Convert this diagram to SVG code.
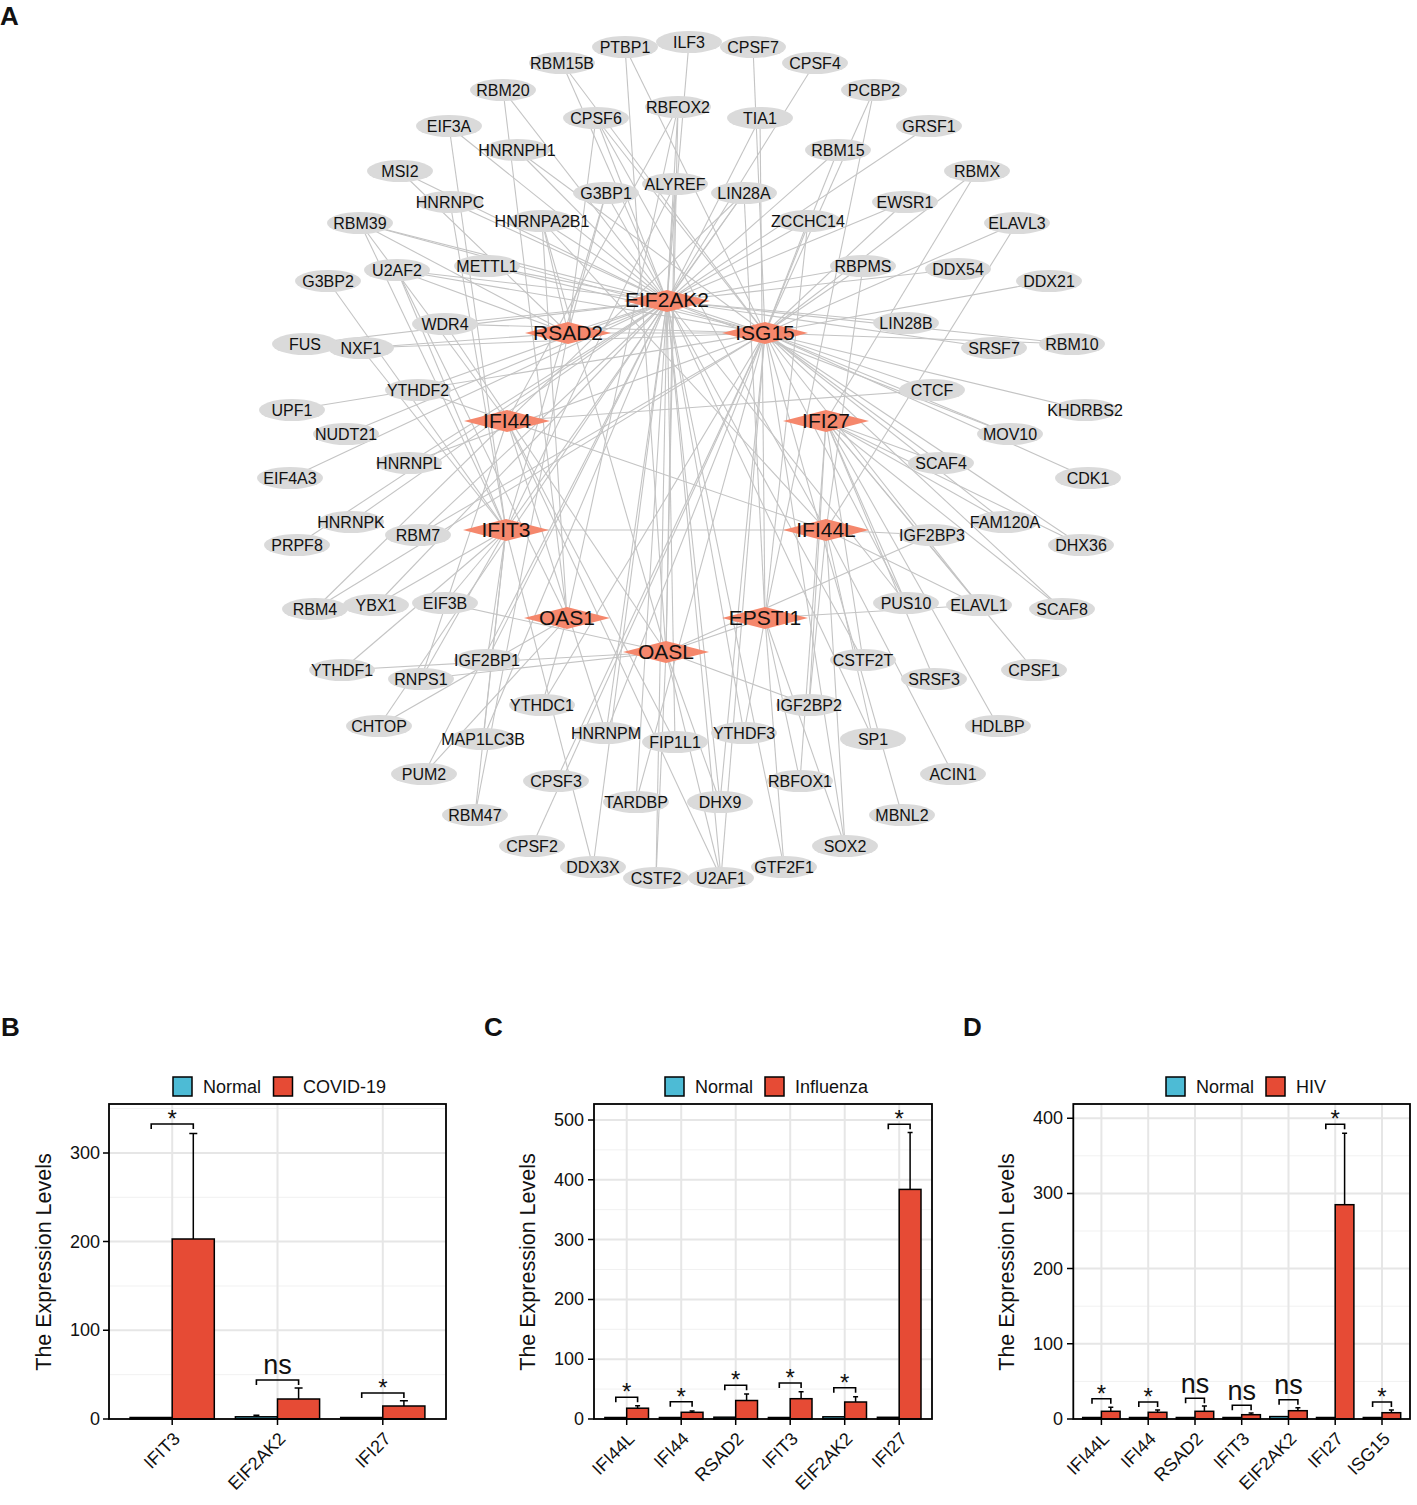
<svg xmlns="http://www.w3.org/2000/svg" width="1417" height="1505" viewBox="0 0 1417 1505">
<style>
text{font-family:"Liberation Sans",Arial,sans-serif;fill:#111}
.edges line{stroke:#c4c4c4;stroke-width:1.1}
.pn ellipse{fill:#dadada}
.pn text{font-size:16px;text-anchor:middle}
.hub polygon{fill:#f5876c}
.hub text{font-size:21px;text-anchor:middle}
.lbl{font-size:26px;font-weight:bold}
.gmaj{stroke:#e6e6e6;stroke-width:2}
.gmin{stroke:#f1f1f1;stroke-width:1}
.frame{fill:none;stroke:#000;stroke-width:1.8}
.tick{stroke:#000;stroke-width:1.5}
.ytl{font-size:18px;text-anchor:end}
.xtl{font-size:18px;text-anchor:end}
.ytitle{font-size:21.5px;text-anchor:middle}
.leg{font-size:18px}
.bn{fill:#4dbbd5;stroke:#000;stroke-width:1.5}
.br{fill:#e64b35;stroke:#000;stroke-width:1.5}
.err{stroke:#000;stroke-width:1.5;fill:none}
.brk{stroke:#000;stroke-width:1.6;fill:none}
.star{font-size:24px;text-anchor:middle}
.ns{font-size:27px;text-anchor:middle}
</style>
<rect width="1417" height="1505" fill="#fff"/>
<text class="lbl" x="0" y="25">A</text>
<g class="edges" id="edges">
<line x1="625" y1="47" x2="666" y2="652"/><line x1="625" y1="47" x2="765" y2="333"/>
<line x1="689" y1="42" x2="667" y2="301"/>
<line x1="753" y1="47" x2="765" y2="333"/>
<line x1="562" y1="63" x2="765" y2="333"/><line x1="562" y1="63" x2="667" y2="301"/>
<line x1="815" y1="63" x2="667" y2="301"/>
<line x1="503" y1="90" x2="667" y2="301"/><line x1="503" y1="90" x2="567" y2="618"/>
<line x1="874" y1="90" x2="765" y2="333"/><line x1="874" y1="90" x2="765" y2="618"/>
<line x1="596" y1="118" x2="667" y2="301"/><line x1="596" y1="118" x2="765" y2="333"/><line x1="596" y1="118" x2="826" y2="530"/><line x1="596" y1="118" x2="568" y2="333"/>
<line x1="678" y1="107" x2="667" y2="301"/><line x1="678" y1="107" x2="666" y2="652"/><line x1="678" y1="107" x2="507" y2="421"/><line x1="678" y1="107" x2="567" y2="618"/>
<line x1="760" y1="118" x2="667" y2="301"/><line x1="760" y1="118" x2="765" y2="618"/>
<line x1="449" y1="126" x2="506" y2="530"/><line x1="449" y1="126" x2="667" y2="301"/>
<line x1="929" y1="126" x2="667" y2="301"/>
<line x1="517" y1="150" x2="667" y2="301"/><line x1="517" y1="150" x2="765" y2="333"/>
<line x1="838" y1="150" x2="765" y2="333"/><line x1="838" y1="150" x2="667" y2="301"/>
<line x1="400" y1="171" x2="667" y2="301"/><line x1="400" y1="171" x2="568" y2="333"/>
<line x1="977" y1="171" x2="765" y2="333"/><line x1="977" y1="171" x2="826" y2="421"/>
<line x1="606" y1="193" x2="506" y2="530"/><line x1="606" y1="193" x2="667" y2="301"/><line x1="606" y1="193" x2="568" y2="333"/>
<line x1="675" y1="184" x2="667" y2="301"/><line x1="675" y1="184" x2="666" y2="652"/><line x1="675" y1="184" x2="506" y2="530"/>
<line x1="744" y1="193" x2="667" y2="301"/><line x1="744" y1="193" x2="507" y2="421"/><line x1="744" y1="193" x2="506" y2="530"/><line x1="744" y1="193" x2="765" y2="618"/>
<line x1="450" y1="202" x2="506" y2="530"/><line x1="450" y1="202" x2="667" y2="301"/>
<line x1="905" y1="202" x2="667" y2="301"/><line x1="905" y1="202" x2="765" y2="333"/>
<line x1="808" y1="221" x2="765" y2="333"/><line x1="808" y1="221" x2="667" y2="301"/><line x1="808" y1="221" x2="765" y2="618"/>
<line x1="542" y1="221" x2="667" y2="301"/><line x1="542" y1="221" x2="567" y2="618"/><line x1="542" y1="221" x2="826" y2="530"/><line x1="542" y1="221" x2="666" y2="652"/><line x1="542" y1="221" x2="568" y2="333"/>
<line x1="360" y1="223" x2="667" y2="301"/><line x1="360" y1="223" x2="765" y2="333"/><line x1="360" y1="223" x2="507" y2="421"/><line x1="360" y1="223" x2="506" y2="530"/><line x1="360" y1="223" x2="568" y2="333"/>
<line x1="1017" y1="223" x2="765" y2="333"/><line x1="1017" y1="223" x2="826" y2="530"/>
<line x1="397" y1="270" x2="667" y2="301"/><line x1="397" y1="270" x2="765" y2="333"/><line x1="397" y1="270" x2="567" y2="618"/><line x1="397" y1="270" x2="506" y2="530"/><line x1="397" y1="270" x2="568" y2="333"/>
<line x1="487" y1="266" x2="667" y2="301"/><line x1="487" y1="266" x2="765" y2="333"/>
<line x1="863" y1="266" x2="826" y2="530"/><line x1="863" y1="266" x2="667" y2="301"/><line x1="863" y1="266" x2="765" y2="333"/>
<line x1="958" y1="269" x2="667" y2="301"/>
<line x1="328" y1="281" x2="506" y2="530"/>
<line x1="1049" y1="281" x2="765" y2="333"/>
<line x1="445" y1="324" x2="667" y2="301"/><line x1="445" y1="324" x2="765" y2="333"/><line x1="445" y1="324" x2="666" y2="652"/>
<line x1="906" y1="323" x2="667" y2="301"/>
<line x1="305" y1="344" x2="667" y2="301"/>
<line x1="361" y1="348" x2="765" y2="333"/><line x1="361" y1="348" x2="506" y2="530"/><line x1="361" y1="348" x2="568" y2="333"/>
<line x1="994" y1="348" x2="667" y2="301"/>
<line x1="1072" y1="344" x2="765" y2="333"/><line x1="1072" y1="344" x2="667" y2="301"/>
<line x1="418" y1="390" x2="667" y2="301"/><line x1="418" y1="390" x2="826" y2="530"/>
<line x1="932" y1="390" x2="507" y2="421"/><line x1="932" y1="390" x2="765" y2="333"/>
<line x1="292" y1="410" x2="765" y2="333"/>
<line x1="1085" y1="410" x2="765" y2="333"/>
<line x1="346" y1="434" x2="667" y2="301"/>
<line x1="1010" y1="434" x2="765" y2="333"/><line x1="1010" y1="434" x2="667" y2="301"/>
<line x1="409" y1="463" x2="667" y2="301"/><line x1="409" y1="463" x2="765" y2="333"/>
<line x1="941" y1="463" x2="765" y2="333"/><line x1="941" y1="463" x2="826" y2="421"/>
<line x1="290" y1="478" x2="667" y2="301"/>
<line x1="1088" y1="478" x2="765" y2="333"/>
<line x1="351" y1="522" x2="667" y2="301"/>
<line x1="1005" y1="522" x2="765" y2="333"/><line x1="1005" y1="522" x2="826" y2="421"/>
<line x1="418" y1="535" x2="765" y2="333"/><line x1="418" y1="535" x2="667" y2="301"/>
<line x1="932" y1="535" x2="826" y2="530"/><line x1="932" y1="535" x2="666" y2="652"/>
<line x1="297" y1="545" x2="667" y2="301"/>
<line x1="1081" y1="545" x2="826" y2="421"/><line x1="1081" y1="545" x2="765" y2="333"/>
<line x1="315" y1="609" x2="507" y2="421"/><line x1="315" y1="609" x2="765" y2="333"/>
<line x1="376" y1="605" x2="506" y2="530"/><line x1="376" y1="605" x2="667" y2="301"/>
<line x1="445" y1="603" x2="666" y2="652"/><line x1="445" y1="603" x2="506" y2="530"/>
<line x1="906" y1="603" x2="826" y2="421"/><line x1="906" y1="603" x2="765" y2="333"/><line x1="906" y1="603" x2="667" y2="301"/>
<line x1="979" y1="605" x2="826" y2="421"/><line x1="979" y1="605" x2="826" y2="530"/><line x1="979" y1="605" x2="765" y2="333"/><line x1="979" y1="605" x2="765" y2="618"/>
<line x1="1062" y1="609" x2="826" y2="421"/><line x1="1062" y1="609" x2="765" y2="333"/>
<line x1="487" y1="660" x2="506" y2="530"/><line x1="487" y1="660" x2="667" y2="301"/>
<line x1="342" y1="670" x2="666" y2="652"/><line x1="342" y1="670" x2="506" y2="530"/>
<line x1="421" y1="679" x2="666" y2="652"/><line x1="421" y1="679" x2="506" y2="530"/><line x1="421" y1="679" x2="507" y2="421"/>
<line x1="863" y1="660" x2="826" y2="421"/><line x1="863" y1="660" x2="667" y2="301"/>
<line x1="934" y1="679" x2="826" y2="421"/>
<line x1="1034" y1="670" x2="826" y2="421"/>
<line x1="542" y1="705" x2="765" y2="333"/><line x1="542" y1="705" x2="567" y2="618"/>
<line x1="809" y1="705" x2="666" y2="652"/><line x1="809" y1="705" x2="826" y2="530"/><line x1="809" y1="705" x2="826" y2="421"/>
<line x1="379" y1="726" x2="667" y2="301"/><line x1="379" y1="726" x2="567" y2="618"/>
<line x1="998" y1="726" x2="826" y2="421"/>
<line x1="606" y1="733" x2="667" y2="301"/><line x1="606" y1="733" x2="765" y2="333"/><line x1="606" y1="733" x2="507" y2="421"/>
<line x1="675" y1="742" x2="667" y2="301"/><line x1="675" y1="742" x2="507" y2="421"/>
<line x1="744" y1="733" x2="667" y2="301"/><line x1="744" y1="733" x2="765" y2="618"/>
<line x1="483" y1="739" x2="506" y2="530"/><line x1="483" y1="739" x2="667" y2="301"/>
<line x1="873" y1="739" x2="667" y2="301"/><line x1="873" y1="739" x2="826" y2="530"/>
<line x1="424" y1="774" x2="667" y2="301"/><line x1="424" y1="774" x2="567" y2="618"/>
<line x1="953" y1="774" x2="826" y2="530"/>
<line x1="556" y1="781" x2="765" y2="333"/>
<line x1="800" y1="781" x2="765" y2="618"/><line x1="800" y1="781" x2="826" y2="421"/>
<line x1="636" y1="802" x2="667" y2="301"/><line x1="636" y1="802" x2="765" y2="333"/>
<line x1="720" y1="802" x2="667" y2="301"/><line x1="720" y1="802" x2="666" y2="652"/><line x1="720" y1="802" x2="765" y2="333"/>
<line x1="475" y1="815" x2="506" y2="530"/><line x1="475" y1="815" x2="568" y2="333"/>
<line x1="902" y1="815" x2="765" y2="333"/>
<line x1="532" y1="846" x2="765" y2="333"/>
<line x1="845" y1="846" x2="826" y2="530"/><line x1="845" y1="846" x2="765" y2="333"/><line x1="845" y1="846" x2="765" y2="618"/>
<line x1="593" y1="867" x2="667" y2="301"/><line x1="593" y1="867" x2="506" y2="530"/>
<line x1="784" y1="867" x2="667" y2="301"/><line x1="784" y1="867" x2="765" y2="618"/>
<line x1="656" y1="878" x2="667" y2="301"/><line x1="656" y1="878" x2="666" y2="652"/>
<line x1="721" y1="878" x2="667" y2="301"/><line x1="721" y1="878" x2="507" y2="421"/><line x1="721" y1="878" x2="765" y2="333"/><line x1="721" y1="878" x2="666" y2="652"/>
<line x1="667" y1="301" x2="765" y2="333"/><line x1="667" y1="301" x2="568" y2="333"/><line x1="568" y1="333" x2="765" y2="333"/>
<line x1="506" y1="530" x2="826" y2="530"/><line x1="765" y1="618" x2="666" y2="652"/>
</g>
<g id="nodes">
<g class="pn" id="n-PTBP1"><ellipse cx="625" cy="47" rx="33" ry="11"/><text x="625" y="53">PTBP1</text></g>
<g class="pn" id="n-ILF3"><ellipse cx="689" cy="42" rx="33" ry="11"/><text x="689" y="48">ILF3</text></g>
<g class="pn" id="n-CPSF7"><ellipse cx="753" cy="47" rx="33" ry="11"/><text x="753" y="53">CPSF7</text></g>
<g class="pn" id="n-RBM15B"><ellipse cx="562" cy="63" rx="33" ry="11"/><text x="562" y="69">RBM15B</text></g>
<g class="pn" id="n-CPSF4"><ellipse cx="815" cy="63" rx="33" ry="11"/><text x="815" y="69">CPSF4</text></g>
<g class="pn" id="n-RBM20"><ellipse cx="503" cy="90" rx="33" ry="11"/><text x="503" y="96">RBM20</text></g>
<g class="pn" id="n-PCBP2"><ellipse cx="874" cy="90" rx="33" ry="11"/><text x="874" y="96">PCBP2</text></g>
<g class="pn" id="n-CPSF6"><ellipse cx="596" cy="118" rx="33" ry="11"/><text x="596" y="124">CPSF6</text></g>
<g class="pn" id="n-RBFOX2"><ellipse cx="678" cy="107" rx="33" ry="11"/><text x="678" y="113">RBFOX2</text></g>
<g class="pn" id="n-TIA1"><ellipse cx="760" cy="118" rx="33" ry="11"/><text x="760" y="124">TIA1</text></g>
<g class="pn" id="n-EIF3A"><ellipse cx="449" cy="126" rx="33" ry="11"/><text x="449" y="132">EIF3A</text></g>
<g class="pn" id="n-GRSF1"><ellipse cx="929" cy="126" rx="33" ry="11"/><text x="929" y="132">GRSF1</text></g>
<g class="pn" id="n-HNRNPH1"><ellipse cx="517" cy="150" rx="33" ry="11"/><text x="517" y="156">HNRNPH1</text></g>
<g class="pn" id="n-RBM15"><ellipse cx="838" cy="150" rx="33" ry="11"/><text x="838" y="156">RBM15</text></g>
<g class="pn" id="n-MSI2"><ellipse cx="400" cy="171" rx="33" ry="11"/><text x="400" y="177">MSI2</text></g>
<g class="pn" id="n-RBMX"><ellipse cx="977" cy="171" rx="33" ry="11"/><text x="977" y="177">RBMX</text></g>
<g class="pn" id="n-G3BP1"><ellipse cx="606" cy="193" rx="33" ry="11"/><text x="606" y="199">G3BP1</text></g>
<g class="pn" id="n-ALYREF"><ellipse cx="675" cy="184" rx="33" ry="11"/><text x="675" y="190">ALYREF</text></g>
<g class="pn" id="n-LIN28A"><ellipse cx="744" cy="193" rx="33" ry="11"/><text x="744" y="199">LIN28A</text></g>
<g class="pn" id="n-HNRNPC"><ellipse cx="450" cy="202" rx="33" ry="11"/><text x="450" y="208">HNRNPC</text></g>
<g class="pn" id="n-EWSR1"><ellipse cx="905" cy="202" rx="33" ry="11"/><text x="905" y="208">EWSR1</text></g>
<g class="pn" id="n-ZCCHC14"><ellipse cx="808" cy="221" rx="33" ry="11"/><text x="808" y="227">ZCCHC14</text></g>
<g class="pn" id="n-HNRNPA2B1"><ellipse cx="542" cy="221" rx="33" ry="11"/><text x="542" y="227">HNRNPA2B1</text></g>
<g class="pn" id="n-RBM39"><ellipse cx="360" cy="223" rx="33" ry="11"/><text x="360" y="229">RBM39</text></g>
<g class="pn" id="n-ELAVL3"><ellipse cx="1017" cy="223" rx="33" ry="11"/><text x="1017" y="229">ELAVL3</text></g>
<g class="pn" id="n-U2AF2"><ellipse cx="397" cy="270" rx="33" ry="11"/><text x="397" y="276">U2AF2</text></g>
<g class="pn" id="n-METTL1"><ellipse cx="487" cy="266" rx="33" ry="11"/><text x="487" y="272">METTL1</text></g>
<g class="pn" id="n-RBPMS"><ellipse cx="863" cy="266" rx="33" ry="11"/><text x="863" y="272">RBPMS</text></g>
<g class="pn" id="n-DDX54"><ellipse cx="958" cy="269" rx="33" ry="11"/><text x="958" y="275">DDX54</text></g>
<g class="pn" id="n-G3BP2"><ellipse cx="328" cy="281" rx="33" ry="11"/><text x="328" y="287">G3BP2</text></g>
<g class="pn" id="n-DDX21"><ellipse cx="1049" cy="281" rx="33" ry="11"/><text x="1049" y="287">DDX21</text></g>
<g class="pn" id="n-WDR4"><ellipse cx="445" cy="324" rx="33" ry="11"/><text x="445" y="330">WDR4</text></g>
<g class="pn" id="n-LIN28B"><ellipse cx="906" cy="323" rx="33" ry="11"/><text x="906" y="329">LIN28B</text></g>
<g class="pn" id="n-FUS"><ellipse cx="305" cy="344" rx="33" ry="11"/><text x="305" y="350">FUS</text></g>
<g class="pn" id="n-NXF1"><ellipse cx="361" cy="348" rx="33" ry="11"/><text x="361" y="354">NXF1</text></g>
<g class="pn" id="n-SRSF7"><ellipse cx="994" cy="348" rx="33" ry="11"/><text x="994" y="354">SRSF7</text></g>
<g class="pn" id="n-RBM10"><ellipse cx="1072" cy="344" rx="33" ry="11"/><text x="1072" y="350">RBM10</text></g>
<g class="pn" id="n-YTHDF2"><ellipse cx="418" cy="390" rx="33" ry="11"/><text x="418" y="396">YTHDF2</text></g>
<g class="pn" id="n-CTCF"><ellipse cx="932" cy="390" rx="33" ry="11"/><text x="932" y="396">CTCF</text></g>
<g class="pn" id="n-UPF1"><ellipse cx="292" cy="410" rx="33" ry="11"/><text x="292" y="416">UPF1</text></g>
<g class="pn" id="n-KHDRBS2"><ellipse cx="1085" cy="410" rx="33" ry="11"/><text x="1085" y="416">KHDRBS2</text></g>
<g class="pn" id="n-NUDT21"><ellipse cx="346" cy="434" rx="33" ry="11"/><text x="346" y="440">NUDT21</text></g>
<g class="pn" id="n-MOV10"><ellipse cx="1010" cy="434" rx="33" ry="11"/><text x="1010" y="440">MOV10</text></g>
<g class="pn" id="n-HNRNPL"><ellipse cx="409" cy="463" rx="33" ry="11"/><text x="409" y="469">HNRNPL</text></g>
<g class="pn" id="n-SCAF4"><ellipse cx="941" cy="463" rx="33" ry="11"/><text x="941" y="469">SCAF4</text></g>
<g class="pn" id="n-EIF4A3"><ellipse cx="290" cy="478" rx="33" ry="11"/><text x="290" y="484">EIF4A3</text></g>
<g class="pn" id="n-CDK1"><ellipse cx="1088" cy="478" rx="33" ry="11"/><text x="1088" y="484">CDK1</text></g>
<g class="pn" id="n-HNRNPK"><ellipse cx="351" cy="522" rx="33" ry="11"/><text x="351" y="528">HNRNPK</text></g>
<g class="pn" id="n-FAM120A"><ellipse cx="1005" cy="522" rx="33" ry="11"/><text x="1005" y="528">FAM120A</text></g>
<g class="pn" id="n-RBM7"><ellipse cx="418" cy="535" rx="33" ry="11"/><text x="418" y="541">RBM7</text></g>
<g class="pn" id="n-IGF2BP3"><ellipse cx="932" cy="535" rx="33" ry="11"/><text x="932" y="541">IGF2BP3</text></g>
<g class="pn" id="n-PRPF8"><ellipse cx="297" cy="545" rx="33" ry="11"/><text x="297" y="551">PRPF8</text></g>
<g class="pn" id="n-DHX36"><ellipse cx="1081" cy="545" rx="33" ry="11"/><text x="1081" y="551">DHX36</text></g>
<g class="pn" id="n-RBM4"><ellipse cx="315" cy="609" rx="33" ry="11"/><text x="315" y="615">RBM4</text></g>
<g class="pn" id="n-YBX1"><ellipse cx="376" cy="605" rx="33" ry="11"/><text x="376" y="611">YBX1</text></g>
<g class="pn" id="n-EIF3B"><ellipse cx="445" cy="603" rx="33" ry="11"/><text x="445" y="609">EIF3B</text></g>
<g class="pn" id="n-PUS10"><ellipse cx="906" cy="603" rx="33" ry="11"/><text x="906" y="609">PUS10</text></g>
<g class="pn" id="n-ELAVL1"><ellipse cx="979" cy="605" rx="33" ry="11"/><text x="979" y="611">ELAVL1</text></g>
<g class="pn" id="n-SCAF8"><ellipse cx="1062" cy="609" rx="33" ry="11"/><text x="1062" y="615">SCAF8</text></g>
<g class="pn" id="n-IGF2BP1"><ellipse cx="487" cy="660" rx="33" ry="11"/><text x="487" y="666">IGF2BP1</text></g>
<g class="pn" id="n-YTHDF1"><ellipse cx="342" cy="670" rx="33" ry="11"/><text x="342" y="676">YTHDF1</text></g>
<g class="pn" id="n-RNPS1"><ellipse cx="421" cy="679" rx="33" ry="11"/><text x="421" y="685">RNPS1</text></g>
<g class="pn" id="n-CSTF2T"><ellipse cx="863" cy="660" rx="33" ry="11"/><text x="863" y="666">CSTF2T</text></g>
<g class="pn" id="n-SRSF3"><ellipse cx="934" cy="679" rx="33" ry="11"/><text x="934" y="685">SRSF3</text></g>
<g class="pn" id="n-CPSF1"><ellipse cx="1034" cy="670" rx="33" ry="11"/><text x="1034" y="676">CPSF1</text></g>
<g class="pn" id="n-YTHDC1"><ellipse cx="542" cy="705" rx="33" ry="11"/><text x="542" y="711">YTHDC1</text></g>
<g class="pn" id="n-IGF2BP2"><ellipse cx="809" cy="705" rx="33" ry="11"/><text x="809" y="711">IGF2BP2</text></g>
<g class="pn" id="n-CHTOP"><ellipse cx="379" cy="726" rx="33" ry="11"/><text x="379" y="732">CHTOP</text></g>
<g class="pn" id="n-HDLBP"><ellipse cx="998" cy="726" rx="33" ry="11"/><text x="998" y="732">HDLBP</text></g>
<g class="pn" id="n-HNRNPM"><ellipse cx="606" cy="733" rx="33" ry="11"/><text x="606" y="739">HNRNPM</text></g>
<g class="pn" id="n-FIP1L1"><ellipse cx="675" cy="742" rx="33" ry="11"/><text x="675" y="748">FIP1L1</text></g>
<g class="pn" id="n-YTHDF3"><ellipse cx="744" cy="733" rx="33" ry="11"/><text x="744" y="739">YTHDF3</text></g>
<g class="pn" id="n-MAP1LC3B"><ellipse cx="483" cy="739" rx="33" ry="11"/><text x="483" y="745">MAP1LC3B</text></g>
<g class="pn" id="n-SP1"><ellipse cx="873" cy="739" rx="33" ry="11"/><text x="873" y="745">SP1</text></g>
<g class="pn" id="n-PUM2"><ellipse cx="424" cy="774" rx="33" ry="11"/><text x="424" y="780">PUM2</text></g>
<g class="pn" id="n-ACIN1"><ellipse cx="953" cy="774" rx="33" ry="11"/><text x="953" y="780">ACIN1</text></g>
<g class="pn" id="n-CPSF3"><ellipse cx="556" cy="781" rx="33" ry="11"/><text x="556" y="787">CPSF3</text></g>
<g class="pn" id="n-RBFOX1"><ellipse cx="800" cy="781" rx="33" ry="11"/><text x="800" y="787">RBFOX1</text></g>
<g class="pn" id="n-TARDBP"><ellipse cx="636" cy="802" rx="33" ry="11"/><text x="636" y="808">TARDBP</text></g>
<g class="pn" id="n-DHX9"><ellipse cx="720" cy="802" rx="33" ry="11"/><text x="720" y="808">DHX9</text></g>
<g class="pn" id="n-RBM47"><ellipse cx="475" cy="815" rx="33" ry="11"/><text x="475" y="821">RBM47</text></g>
<g class="pn" id="n-MBNL2"><ellipse cx="902" cy="815" rx="33" ry="11"/><text x="902" y="821">MBNL2</text></g>
<g class="pn" id="n-CPSF2"><ellipse cx="532" cy="846" rx="33" ry="11"/><text x="532" y="852">CPSF2</text></g>
<g class="pn" id="n-SOX2"><ellipse cx="845" cy="846" rx="33" ry="11"/><text x="845" y="852">SOX2</text></g>
<g class="pn" id="n-DDX3X"><ellipse cx="593" cy="867" rx="33" ry="11"/><text x="593" y="873">DDX3X</text></g>
<g class="pn" id="n-GTF2F1"><ellipse cx="784" cy="867" rx="33" ry="11"/><text x="784" y="873">GTF2F1</text></g>
<g class="pn" id="n-CSTF2"><ellipse cx="656" cy="878" rx="33" ry="11"/><text x="656" y="884">CSTF2</text></g>
<g class="pn" id="n-U2AF1"><ellipse cx="721" cy="878" rx="33" ry="11"/><text x="721" y="884">U2AF1</text></g>
<g class="hub" id="h-EIF2AK2"><polygon points="624,301 667,290 710,301 667,312"/><text x="667" y="307">EIF2AK2</text></g>
<g class="hub" id="h-RSAD2"><polygon points="525,333 568,322 611,333 568,344"/><text x="568" y="340">RSAD2</text></g>
<g class="hub" id="h-ISG15"><polygon points="722,333 765,322 808,333 765,344"/><text x="765" y="340">ISG15</text></g>
<g class="hub" id="h-IFI44"><polygon points="464,421 507,410 550,421 507,432"/><text x="507" y="428">IFI44</text></g>
<g class="hub" id="h-IFI27"><polygon points="783,421 826,410 869,421 826,432"/><text x="826" y="428">IFI27</text></g>
<g class="hub" id="h-IFIT3"><polygon points="463,530 506,519 549,530 506,541"/><text x="506" y="537">IFIT3</text></g>
<g class="hub" id="h-IFI44L"><polygon points="783,530 826,519 869,530 826,541"/><text x="826" y="537">IFI44L</text></g>
<g class="hub" id="h-OAS1"><polygon points="524,618 567,607 610,618 567,629"/><text x="567" y="625">OAS1</text></g>
<g class="hub" id="h-EPSTI1"><polygon points="722,618 765,607 808,618 765,629"/><text x="765" y="625">EPSTI1</text></g>
<g class="hub" id="h-OASL"><polygon points="623,652 666,641 709,652 666,663"/><text x="666" y="659">OASL</text></g>
</g>

<g id="chartB">
<text class="lbl" x="1" y="1036">B</text>
<rect x="173" y="1077" width="19" height="19" class="bn"/><text class="leg" x="203" y="1093">Normal</text>
<rect x="273.5" y="1077" width="19" height="19" class="br"/><text class="leg" x="303" y="1093">COVID-19</text>
<g>
<line class="gmin" x1="109" x2="446" y1="1374.7" y2="1374.7"/><line class="gmin" x1="109" x2="446" y1="1286" y2="1286"/><line class="gmin" x1="109" x2="446" y1="1197.3" y2="1197.3"/><line class="gmin" x1="109" x2="446" y1="1108.6" y2="1108.6"/>
<line class="gmaj" x1="109" x2="446" y1="1330.3" y2="1330.3"/><line class="gmaj" x1="109" x2="446" y1="1241.6" y2="1241.6"/><line class="gmaj" x1="109" x2="446" y1="1152.9" y2="1152.9"/>
<line class="gmaj" x1="172.2" x2="172.2" y1="1104" y2="1419"/><line class="gmaj" x1="277.5" x2="277.5" y1="1104" y2="1419"/><line class="gmaj" x1="382.8" x2="382.8" y1="1104" y2="1419"/>
</g>
<rect class="bn" x="130.1" y="1417.5" width="42.1" height="1.5"/>
<rect class="br" x="172.2" y="1239" width="42.1" height="180"/>
<path class="err" d="M193.3,1239V1133.4M189.3,1133.4H197.3"/>
<rect class="bn" x="235.4" y="1416.8" width="42.1" height="2.2"/>
<path class="err" d="M256.4,1416.8V1415.3M253.4,1415.3H259.4"/>
<rect class="br" x="277.5" y="1399" width="42.1" height="20"/>
<path class="err" d="M298.6,1399V1388M294.6,1388H302.6"/>
<rect class="bn" x="340.7" y="1417.5" width="42.1" height="1.5"/>
<rect class="br" x="382.8" y="1406" width="42.1" height="13"/>
<path class="err" d="M403.9,1406V1400.7M399.9,1400.7H407.9"/>
<rect class="frame" x="109" y="1104" width="337" height="315"/>
<path class="tick" d="M103,1419H109M103,1330.3H109M103,1241.6H109M103,1152.9H109M172.2,1419V1425M277.5,1419V1425M382.8,1419V1425"/>
<text class="ytl" x="100" y="1425">0</text><text class="ytl" x="100" y="1336.3">100</text><text class="ytl" x="100" y="1247.6">200</text><text class="ytl" x="100" y="1158.9">300</text>
<text class="ytitle" transform="translate(51,1262) rotate(-90)">The Expression Levels</text>
<text class="xtl" transform="translate(181,1440) rotate(-45)">IFIT3</text>
<text class="xtl" transform="translate(286.5,1440) rotate(-45)">EIF2AK2</text>
<text class="xtl" transform="translate(391.8,1440) rotate(-45)">IFI27</text>
<path class="brk" d="M151.2,1129V1124H193.3V1129"/><text class="star" x="172.2" y="1127">*</text>
<path class="brk" d="M256.4,1385V1380H298.6V1385"/><text class="ns" x="277.5" y="1374">ns</text>
<path class="brk" d="M361.7,1398V1393H403.9V1398"/><text class="star" x="382.8" y="1396">*</text>
</g>

<g id="chartC">
<text class="lbl" x="484" y="1036">C</text>
<rect x="665" y="1077" width="19" height="19" class="bn"/><text class="leg" x="695" y="1093">Normal</text>
<rect x="765" y="1077" width="19" height="19" class="br"/><text class="leg" x="795" y="1093">Influenza</text>
<g>
<line class="gmin" x1="594" x2="932" y1="1389.1" y2="1389.1"/><line class="gmin" x1="594" x2="932" y1="1329.3" y2="1329.3"/><line class="gmin" x1="594" x2="932" y1="1269.5" y2="1269.5"/><line class="gmin" x1="594" x2="932" y1="1209.7" y2="1209.7"/><line class="gmin" x1="594" x2="932" y1="1149.9" y2="1149.9"/>
<line class="gmaj" x1="594" x2="932" y1="1359.2" y2="1359.2"/><line class="gmaj" x1="594" x2="932" y1="1299.4" y2="1299.4"/><line class="gmaj" x1="594" x2="932" y1="1239.6" y2="1239.6"/><line class="gmaj" x1="594" x2="932" y1="1179.8" y2="1179.8"/><line class="gmaj" x1="594" x2="932" y1="1120" y2="1120"/>
<line class="gmaj" x1="626.7" x2="626.7" y1="1104" y2="1419"/><line class="gmaj" x1="681.2" x2="681.2" y1="1104" y2="1419"/><line class="gmaj" x1="735.7" x2="735.7" y1="1104" y2="1419"/><line class="gmaj" x1="790.2" x2="790.2" y1="1104" y2="1419"/><line class="gmaj" x1="844.7" x2="844.7" y1="1104" y2="1419"/><line class="gmaj" x1="899.2" x2="899.2" y1="1104" y2="1419"/>
</g>
<rect class="bn" x="604.9" y="1417.5" width="21.8" height="1.5"/><rect class="br" x="626.7" y="1408.2" width="21.8" height="10.8"/><path class="err" d="M637.6,1408.2V1405.8M635.1,1405.8H640.1"/>
<rect class="bn" x="659.4" y="1417.5" width="21.8" height="1.5"/><rect class="br" x="681.2" y="1412.3" width="21.8" height="6.7"/><path class="err" d="M692.1,1412.3V1411M689.6,1411H694.6"/>
<rect class="bn" x="713.9" y="1417.2" width="21.8" height="1.8"/><rect class="br" x="735.7" y="1400.5" width="21.8" height="18.5"/><path class="err" d="M746.6,1400.5V1393.9M744.1,1393.9H749.1"/>
<rect class="bn" x="768.4" y="1417.5" width="21.8" height="1.5"/><rect class="br" x="790.2" y="1398.7" width="21.8" height="20.3"/><path class="err" d="M801.1,1398.7V1391.7M798.6,1391.7H803.6"/>
<rect class="bn" x="822.9" y="1416.8" width="21.8" height="2.2"/><rect class="br" x="844.7" y="1402" width="21.8" height="17"/><path class="err" d="M855.6,1402V1396.7M853.1,1396.7H858.1"/>
<rect class="bn" x="877.4" y="1417.3" width="21.8" height="1.7"/><rect class="br" x="899.2" y="1189.4" width="21.8" height="229.6"/><path class="err" d="M910.1,1189.4V1132.6M907.6,1132.6H912.6"/>
<rect class="frame" x="594" y="1104" width="338" height="315"/>
<path class="tick" d="M588,1419H594M588,1359.2H594M588,1299.4H594M588,1239.6H594M588,1179.8H594M588,1120H594M626.7,1419V1425M681.2,1419V1425M735.7,1419V1425M790.2,1419V1425M844.7,1419V1425M899.2,1419V1425"/>
<text class="ytl" x="584" y="1425">0</text><text class="ytl" x="584" y="1365.2">100</text><text class="ytl" x="584" y="1305.4">200</text><text class="ytl" x="584" y="1245.6">300</text><text class="ytl" x="584" y="1185.8">400</text><text class="ytl" x="584" y="1126">500</text>
<text class="ytitle" transform="translate(535,1262) rotate(-90)">The Expression Levels</text>
<text class="xtl" transform="translate(635.7,1440) rotate(-45)">IFI44L</text>
<text class="xtl" transform="translate(690.2,1440) rotate(-45)">IFI44</text>
<text class="xtl" transform="translate(744.7,1440) rotate(-45)">RSAD2</text>
<text class="xtl" transform="translate(799.2,1440) rotate(-45)">IFIT3</text>
<text class="xtl" transform="translate(853.7,1440) rotate(-45)">EIF2AK2</text>
<text class="xtl" transform="translate(908.2,1440) rotate(-45)">IFI27</text>
<path class="brk" d="M615.8,1402.3V1397.3H637.6V1402.3"/><text class="star" x="626.7" y="1400.3">*</text>
<path class="brk" d="M670.3,1406.7V1401.7H692.1V1406.7"/><text class="star" x="681.2" y="1404.7">*</text>
<path class="brk" d="M724.8,1390.3V1385.3H746.6V1390.3"/><text class="star" x="735.7" y="1388.3">*</text>
<path class="brk" d="M779.3,1388V1383H801.1V1388"/><text class="star" x="790.2" y="1386">*</text>
<path class="brk" d="M833.8,1392.7V1387.7H855.6V1392.7"/><text class="star" x="844.7" y="1390.7">*</text>
<path class="brk" d="M888.3,1129.3V1124.3H910.1V1129.3"/><text class="star" x="899.2" y="1127.3">*</text>
</g>

<g id="chartD">
<text class="lbl" x="963" y="1036">D</text>
<rect x="1166" y="1077" width="19" height="19" class="bn"/><text class="leg" x="1196" y="1093">Normal</text>
<rect x="1266" y="1077" width="19" height="19" class="br"/><text class="leg" x="1296" y="1093">HIV</text>
<g>
<line class="gmin" x1="1073.3" x2="1410" y1="1381.4" y2="1381.4"/><line class="gmin" x1="1073.3" x2="1410" y1="1306.2" y2="1306.2"/><line class="gmin" x1="1073.3" x2="1410" y1="1231" y2="1231"/><line class="gmin" x1="1073.3" x2="1410" y1="1155.8" y2="1155.8"/>
<line class="gmaj" x1="1073.3" x2="1410" y1="1343.8" y2="1343.8"/><line class="gmaj" x1="1073.3" x2="1410" y1="1268.6" y2="1268.6"/><line class="gmaj" x1="1073.3" x2="1410" y1="1193.4" y2="1193.4"/><line class="gmaj" x1="1073.3" x2="1410" y1="1118.2" y2="1118.2"/>
<line class="gmaj" x1="1101.4" x2="1101.4" y1="1104" y2="1419"/><line class="gmaj" x1="1148.2" x2="1148.2" y1="1104" y2="1419"/><line class="gmaj" x1="1195" x2="1195" y1="1104" y2="1419"/><line class="gmaj" x1="1241.7" x2="1241.7" y1="1104" y2="1419"/><line class="gmaj" x1="1288.5" x2="1288.5" y1="1104" y2="1419"/><line class="gmaj" x1="1335.2" x2="1335.2" y1="1104" y2="1419"/><line class="gmaj" x1="1382" x2="1382" y1="1104" y2="1419"/>
</g>
<rect class="bn" x="1082.7" y="1417.5" width="18.7" height="1.5"/><rect class="br" x="1101.4" y="1411.3" width="18.7" height="7.7"/><path class="err" d="M1110.8,1411.3V1407.3M1108.3,1407.3H1113.3"/>
<rect class="bn" x="1129.5" y="1417.5" width="18.7" height="1.5"/><rect class="br" x="1148.2" y="1412.3" width="18.7" height="6.7"/><path class="err" d="M1157.6,1412.3V1410M1155.1,1410H1160.1"/>
<rect class="bn" x="1176.3" y="1417.5" width="18.7" height="1.5"/><rect class="br" x="1195" y="1411.3" width="18.7" height="7.7"/><path class="err" d="M1204.4,1411.3V1406M1201.9,1406H1206.9"/>
<rect class="bn" x="1223" y="1417.5" width="18.7" height="1.5"/><rect class="br" x="1241.7" y="1414.7" width="18.7" height="4.3"/><path class="err" d="M1251.1,1414.7V1413M1248.6,1413H1253.6"/>
<rect class="bn" x="1269.8" y="1416.6" width="18.7" height="2.4"/><rect class="br" x="1288.5" y="1410.7" width="18.7" height="8.3"/><path class="err" d="M1297.9,1410.7V1407.7M1295.4,1407.7H1300.4"/>
<rect class="bn" x="1316.5" y="1417.5" width="18.7" height="1.5"/><rect class="br" x="1335.2" y="1204.7" width="18.7" height="214.3"/><path class="err" d="M1344.6,1204.7V1133.2M1342.1,1133.2H1347.1"/>
<rect class="bn" x="1363.3" y="1417.5" width="18.7" height="1.5"/><rect class="br" x="1382" y="1412.7" width="18.7" height="6.3"/><path class="err" d="M1391.4,1412.7V1410M1388.9,1410H1393.9"/>
<rect class="frame" x="1073.3" y="1104" width="336.7" height="315"/>
<path class="tick" d="M1067,1419H1073.3M1067,1343.8H1073.3M1067,1268.6H1073.3M1067,1193.4H1073.3M1067,1118.2H1073.3M1101.4,1419V1425M1148.2,1419V1425M1195,1419V1425M1241.7,1419V1425M1288.5,1419V1425M1335.2,1419V1425M1382,1419V1425"/>
<text class="ytl" x="1063" y="1425">0</text><text class="ytl" x="1063" y="1349.8">100</text><text class="ytl" x="1063" y="1274.6">200</text><text class="ytl" x="1063" y="1199.4">300</text><text class="ytl" x="1063" y="1124.2">400</text>
<text class="ytitle" transform="translate(1014,1262) rotate(-90)">The Expression Levels</text>
<text class="xtl" transform="translate(1110.4,1440) rotate(-45)">IFI44L</text>
<text class="xtl" transform="translate(1157.2,1440) rotate(-45)">IFI44</text>
<text class="xtl" transform="translate(1204,1440) rotate(-45)">RSAD2</text>
<text class="xtl" transform="translate(1250.7,1440) rotate(-45)">IFIT3</text>
<text class="xtl" transform="translate(1297.5,1440) rotate(-45)">EIF2AK2</text>
<text class="xtl" transform="translate(1344.2,1440) rotate(-45)">IFI27</text>
<text class="xtl" transform="translate(1391,1440) rotate(-45)">ISG15</text>
<path class="brk" d="M1092,1403.7V1398.7H1110.8V1403.7"/><text class="star" x="1101.4" y="1401.7">*</text>
<path class="brk" d="M1138.8,1407V1402H1157.6V1407"/><text class="star" x="1148.2" y="1405">*</text>
<path class="brk" d="M1185.6,1403.3V1398.3H1204.4V1403.3"/><text class="ns" x="1195" y="1392.7">ns</text>
<path class="brk" d="M1232.3,1410.3V1405.3H1251.1V1410.3"/><text class="ns" x="1241.7" y="1399.7">ns</text>
<path class="brk" d="M1279.1,1404.7V1399.7H1297.9V1404.7"/><text class="ns" x="1288.5" y="1394">ns</text>
<path class="brk" d="M1325.8,1129.3V1124.3H1344.6V1129.3"/><text class="star" x="1335.2" y="1127.3">*</text>
<path class="brk" d="M1372.6,1407V1402H1391.4V1407"/><text class="star" x="1382" y="1405">*</text>
</g>
</svg>
